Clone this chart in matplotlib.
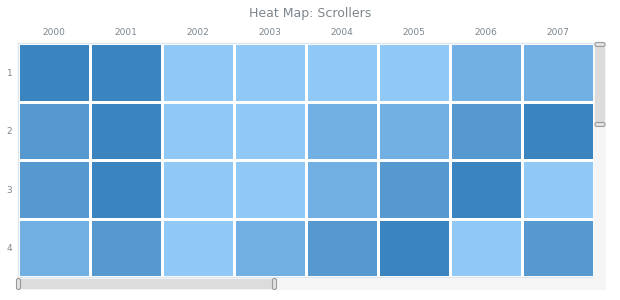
import numpy as np
import matplotlib; matplotlib.use("Agg"); import matplotlib.pyplot as plt
from matplotlib.colors import ListedColormap
from matplotlib.patches import FancyBboxPatch, Rectangle

years = ["2000", "2001", "2002", "2003", "2004", "2005", "2006", "2007"]
rows = ["1", "2", "3", "4"]
# heat level per cell (0 = lightest, 3 = darkest)
levels = [
    [3, 3, 0, 0, 0, 0, 1, 1],
    [2, 3, 0, 0, 1, 1, 2, 3],
    [2, 3, 0, 0, 1, 2, 3, 0],
    [1, 2, 0, 1, 2, 3, 0, 2],
]
palette = ["#90c8f6", "#72b0e3", "#5699d1", "#3a84c0"]
txt = "#7c868e"

W, H = 620, 300
fig = plt.figure(figsize=(6.2, 3.0), dpi=100)
def fx(px): return px / W
def fy(py): return 1 - py / H

x0, x1, y0, y1 = 18, 594, 43, 277
ax = fig.add_axes([fx(x0), fy(y1), fx(x1 - x0), (y1 - y0) / H])
data = np.array(levels)
ax.pcolormesh(data, cmap=ListedColormap(palette), vmin=-0.5, vmax=3.5,
              edgecolors="white", linewidth=1.0)
ax.set_xlim(0, len(years)); ax.set_ylim(len(rows), 0)
ax.xaxis.tick_top()
ax.set_xticks(np.arange(len(years)) + 0.5, years)
ax.set_yticks(np.arange(len(rows)) + 0.5, rows)
ax.tick_params(length=0, labelsize=6.5, labelcolor=txt, pad=4)
for s in ax.spines.values():
    s.set_color("#dde6ee"); s.set_linewidth(1)

fig.text(0.5, fy(13), "Heat Map: Scrollers", ha="center", va="center", fontsize=9, color=txt)

# overlay in pixel units for the scrollers
ov = fig.add_axes([0, 0, 1, 1], zorder=5)
ov.set_xlim(0, W); ov.set_ylim(H, 0); ov.axis("off"); ov.patch.set_alpha(0)

def bar(xa, ya, xb, yb, color):
    ov.add_patch(Rectangle((xa, ya), xb - xa, yb - ya, facecolor=color, edgecolor="none"))

def handle(cx, cy, w, h):
    ov.add_patch(FancyBboxPatch((cx - w / 2, cy - h / 2), w, h,
                                boxstyle="round,pad=0,rounding_size=1.8",
                                facecolor="#e2e2e2", edgecolor="#9a9a9a", linewidth=0.8))

# vertical scroller
bar(594, 43, 606, 290, "#f5f5f5")
bar(595, 43, 605, 125, "#dcdcdc")
handle(600, 44.5, 10, 4)
handle(600, 124.5, 10, 4)
# horizontal scroller
bar(18, 278, 606, 290, "#f5f5f5")
bar(18, 279, 275, 289, "#dcdcdc")
handle(18.5, 284, 4, 11)
handle(274.5, 284, 4, 11)

fig.savefig("out.png", dpi=100, facecolor="white")
